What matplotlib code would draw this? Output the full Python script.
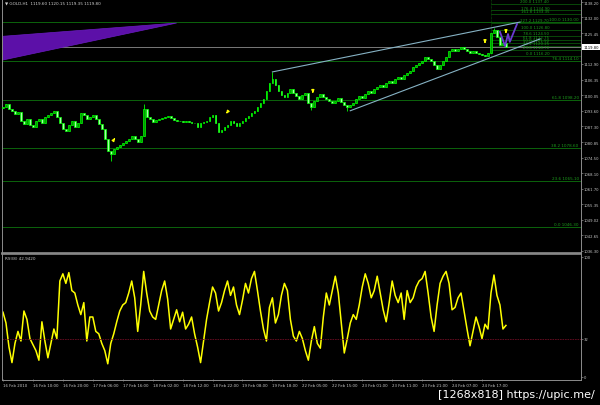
import numpy as np
import matplotlib
matplotlib.use("Agg")
import matplotlib.pyplot as plt
import matplotlib.transforms as mtransforms
from matplotlib.patches import Polygon

# closing prices, one per bar (H1)
closes = [
    1095.3, 1096.5, 1094.5, 1093.7, 1092.5, 1093.3, 1089.6, 1088.4, 1090.4, 1088.0,
    1087.1, 1089.6, 1090.4, 1088.8, 1091.2, 1092.0, 1092.9, 1093.7, 1091.2, 1088.8,
    1086.3, 1085.5, 1088.0, 1089.6, 1087.1, 1088.8, 1092.9, 1092.0, 1090.4, 1091.2,
    1092.0, 1090.4, 1088.4, 1086.3, 1082.2, 1077.3, 1076.1, 1078.1, 1079.0, 1079.8,
    1080.6, 1081.4, 1082.2, 1083.5, 1082.2, 1081.0, 1083.5, 1094.5, 1091.2, 1090.4,
    1089.2, 1090.0, 1090.4, 1090.8, 1091.2, 1091.6, 1090.8, 1090.0, 1089.6, 1089.6,
    1089.2, 1089.6, 1089.2, 1088.8, 1088.8, 1087.1, 1088.8, 1089.2, 1089.6, 1091.2,
    1092.0, 1088.8, 1085.1, 1085.9, 1087.1, 1088.0, 1089.6, 1088.8, 1087.5, 1088.8,
    1089.6, 1090.8, 1091.6, 1092.9, 1093.7, 1095.3, 1097.0, 1098.6, 1101.9, 1105.1,
    1106.8, 1104.3, 1101.9, 1100.2, 1099.4, 1101.0, 1102.7, 1101.0, 1099.8, 1098.6,
    1100.2, 1101.0, 1097.0, 1095.3, 1097.8, 1099.4, 1100.6, 1099.4, 1098.6, 1097.8,
    1097.0, 1097.8, 1099.0, 1097.4, 1096.1, 1095.3, 1096.1, 1097.0, 1098.6, 1099.8,
    1099.0, 1100.6, 1101.9, 1101.0, 1102.7, 1103.5, 1104.3, 1103.5, 1105.1, 1105.9,
    1105.1, 1106.8, 1107.6, 1106.8, 1108.4, 1109.2, 1110.0, 1111.7, 1112.5, 1113.3,
    1114.1, 1115.8, 1114.9, 1114.1, 1112.5, 1110.8, 1112.5, 1114.1, 1115.8, 1118.2,
    1119.0, 1118.2, 1119.0, 1119.8, 1119.0, 1118.2, 1117.4, 1118.2, 1117.4, 1117.0,
    1116.6, 1116.2, 1117.4, 1125.6, 1126.8, 1123.9, 1120.7, 1121.5, 1119.8,
]
first_open = 1095.0
spike_highs = {47: 1096.6, 90: 1109.6, 164: 1127.6}
spike_lows = {36: 1073.2, 103: 1094.0, 115: 1093.7}

rsi_values = [
    54, 45, 25, 12, 28, 38, 30, 55, 48, 32, 27, 22, 14, 46, 30, 16, 28, 40, 32, 80,
    86, 78, 87, 72, 70, 60, 52, 62, 30, 50, 50, 38, 36, 28, 22, 11, 28, 36, 46, 55,
    60, 62, 70, 80, 66, 38, 60, 88, 70, 55, 50, 48, 60, 72, 80, 65, 40, 48, 56, 46,
    54, 40, 44, 50, 36, 25, 12,
    30, 48, 62, 75, 70, 55, 62, 72, 80, 68, 75, 60, 52, 64, 78, 70, 82, 88, 72, 55,
    40, 30, 58, 66, 45, 52, 68, 78, 72, 48, 34, 30, 38, 32, 22, 14, 30, 42, 28, 24,
    50, 70, 60, 72, 84, 70, 45, 20, 32, 45, 52, 48, 60, 75, 86, 78, 66, 72, 84, 70,
    56, 46, 62, 80, 68, 62,
    70, 48, 72, 62, 66, 75, 80, 82, 88, 70, 50, 38, 60, 78, 84, 88, 78, 56, 58, 66,
    70, 55, 40, 26, 38, 50, 42, 32, 44, 40, 70, 85, 68, 60, 40, 43,
]
rsi_level = 32

price_ticks = [1036.30, 1042.65, 1049.02, 1055.35, 1061.70, 1068.10, 1074.50, 1080.85,
               1087.30, 1093.60, 1100.05, 1106.35, 1112.90, 1125.45, 1132.00, 1138.20]
time_ticks = [0, 10, 20, 30, 40, 50, 60, 70, 80, 90, 100, 110, 120, 130, 140, 150, 160]
time_labels = ["16 Feb 2010", "16 Feb 10:00", "16 Feb 20:00", "17 Feb 06:00", "17 Feb 16:00",
               "18 Feb 02:00", "18 Feb 12:00", "18 Feb 22:00", "19 Feb 08:00", "19 Feb 18:00",
               "22 Feb 05:00", "22 Feb 15:00", "23 Feb 01:00", "23 Feb 11:00", "23 Feb 21:00",
               "24 Feb 07:00", "24 Feb 17:00"]

# fibo retracement (full width) and expansion (right side)
fib_names = ["0.0", "23.6", "38.2", "61.8", "76.4", "100.0"]
fib_prices = [1046.30, 1065.10, 1078.60, 1098.20, 1114.10, 1130.00]
exp_names = ["0.0", "23.6", "38.2", "50.0", "61.8", "78.6", "100.0", "127.2", "161.8", "176.4", "200.0"]
exp_prices = [1116.20, 1118.70, 1120.25, 1121.50, 1122.75, 1124.50, 1126.80, 1129.70, 1133.35, 1134.90, 1137.40]
exp_start = 163

# drawn objects (bar index, price)
triangle_x = [-3, 58, -3]
triangle_y = [1123.9, 1129.6, 1113.7]
upper_chan_x = [90, 172.7]
upper_chan_y = [1109.6, 1130.0]
lower_chan_x = [116, 179.4]
lower_chan_y = [1093.7, 1123.1]
w_x = [166, 167.7, 168.7, 169.3, 171.7]
w_y = [1126.0, 1120.2, 1125.1, 1121.9, 1129.2]
arrow_x = [38, 74, 103.5, 161, 168]
arrow_y = [1083.4, 1091.6, 1099.8, 1120.2, 1124.3]
arrow_dir = [(-3, -4), (3, 4), (0, 5), (0, 5), (0, 5)]

bid = 1119.80
title = "\u25bc GOLD,H1  1119.60 1120.15 1119.35 1119.80"

W, H = 600, 406
fig = plt.figure(figsize=(6, 4.06), dpi=100, facecolor="black")
ax = fig.add_axes([2 / W, 1 - 254 / H, 579 / W, 254 / H], facecolor="black")
ax2 = fig.add_axes([2 / W, 1 - 381 / H, 579 / W, 126 / H], facecolor="black")

n = len(closes)
x = np.arange(n)
c = np.array(closes)
o = np.array([first_open] + closes[:-1])
lo = np.minimum(o, c)
hi = np.maximum(o, c)
for i, v in spike_highs.items():
    hi[i] = v
for i, v in spike_lows.items():
    lo[i] = v

green = "#00ff00"
ax.vlines(x, lo, hi, color=green, lw=0.6, zorder=3)
up = c >= o
ax.bar(x[up], (c - o)[up], bottom=o[up], width=0.6, color="#009a00", edgecolor=green, lw=0.5, zorder=4)
ax.bar(x[~up], (o - c)[~up], bottom=c[~up], width=0.6, color="#a8ffa8", edgecolor=green, lw=0.5, zorder=4)

xmin, xmax = -0.33, 193.07
ax.set_xlim(xmin, xmax)
ax.set_ylim(1035.48, 1139.44)

blend = mtransforms.blended_transform_factory(ax.transAxes, ax.transData)
for name, p in zip(fib_names, fib_prices):
    ax.axhline(p, color="#0c640c", lw=0.7, zorder=1)
    ax.text(0.996, p + 0.3, f"{name} {p:.2f}", transform=blend, ha="right", va="bottom",
            color="#1c9a1c", fontsize=3)
for name, p in zip(exp_names, exp_prices):
    ax.hlines(p, exp_start, xmax, color="#0c640c", lw=0.5, zorder=1)
    ax.text(0.945, p + 0.2, f"{name} {p:.2f}", transform=blend, ha="right", va="bottom",
            color="#1c9a1c", fontsize=2.8)
ax.vlines(exp_start, exp_prices[0], ax.get_ylim()[1], color="#0c640c", lw=0.5, ls=(0, (1, 1)))

ax.axhline(bid, color="#8c8c8c", lw=0.6, zorder=2)
ax.text(1.004, bid, f"{bid:.2f}", transform=blend, ha="left", va="center", fontsize=2.7,
        color="black", bbox=dict(facecolor="white", edgecolor="none", pad=0.6), clip_on=False)

ax.add_patch(Polygon(list(zip(triangle_x, triangle_y)), closed=True, facecolor="#5c10a8",
                     edgecolor="#6a1cc0", lw=0.5, zorder=2))
ax.plot(upper_chan_x, upper_chan_y, color="#86b2c4", lw=0.8, zorder=5)
ax.plot(lower_chan_x, lower_chan_y, color="#86b2c4", lw=0.8, zorder=5)
ax.plot(w_x, w_y, color="#6a3cd0", lw=1.3, zorder=6)

for ax_, ay_, d in zip(arrow_x, arrow_y, arrow_dir):
    ax.annotate("", xy=(ax_, ay_), xytext=d, textcoords="offset points",
                arrowprops=dict(arrowstyle="-|>", color="#ffff00", lw=1.0, mutation_scale=3.5),
                zorder=7)

ax.text(0.006, 0.995, title, transform=ax.transAxes, ha="left", va="top", color="#d0d0d0", fontsize=3)

# RSI
ax2.plot(x, rsi_values, color="#ffff00", lw=1.1)
ax2.axhline(rsi_level, color="#6b0d22", lw=0.6, ls=(0, (2, 1)))
ax2.set_xlim(xmin, xmax)
ax2.set_ylim(-2.5, 102.5)
ax2.text(0.006, 0.985, "RSI(8) 42.9420", transform=ax2.transAxes, ha="left", va="top",
         color="#c8c8c8", fontsize=3)

for a in (ax, ax2):
    for s in a.spines.values():
        s.set_color("#8c8c8c")
        s.set_linewidth(0.7)
    a.yaxis.tick_right()
    a.tick_params(axis="y", colors="#8c8c8c", labelcolor="#c8c8c8", labelsize=2.7, length=1.5,
                  width=0.5, pad=0.6)
ax.spines["top"].set_visible(False)
ax.spines["bottom"].set_linewidth(1.2)
ax2.spines["top"].set_linewidth(1.2)

ax.set_yticks(price_ticks)
ax.set_yticklabels([f"{t:.2f}" for t in price_ticks])
ax.set_xticks([])
ax2.set_yticks([0, rsi_level, 100])
ax2.set_yticklabels(["0", str(rsi_level), "100"])
ax2.set_xticks(time_ticks)
ax2.set_xticklabels(time_labels, ha="left")
ax2.tick_params(axis="x", colors="#8c8c8c", labelcolor="#c8c8c8", labelsize=2.8, length=2,
                width=0.5, pad=1, direction="inout")

fig.text(0.992, 1 - 395 / H, "[1268x818] https://upic.me/", ha="right", va="center",
         color="white", fontsize=8)

fig.savefig("out.png", dpi=100, facecolor="black")
